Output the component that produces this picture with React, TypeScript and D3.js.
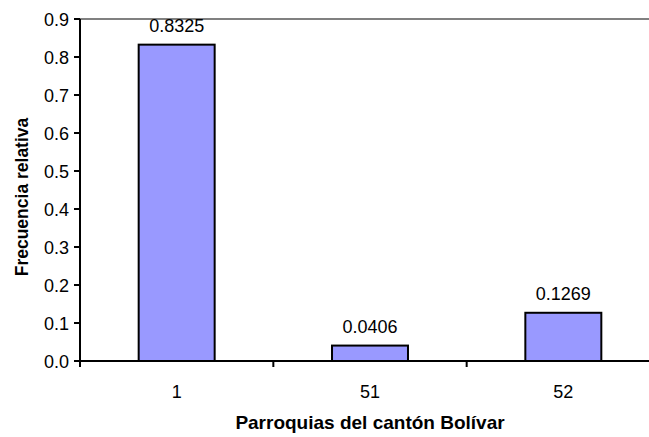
import React from "react";
import * as d3 from "d3";

const categories = ["1", "51", "52"];
const values = [0.8325, 0.0406, 0.1269];
const valueLabels = ["0.8325", "0.0406", "0.1269"];
const yTicks = [0, 0.1, 0.2, 0.3, 0.4, 0.5, 0.6, 0.7, 0.8, 0.9];
const xTitle = "Parroquias del cantón Bolívar";
const yTitle = "Frecuencia relativa";

export default function App() {
  const W = 649, H = 437;
  const left = 80, right = 660, top = 19, bottom = 361;
  const x = d3.scaleBand().domain(categories).range([left, right]).padding(0);
  const y = d3.scaleLinear().domain([0, 0.9]).range([bottom, top]);
  const step = x.step();
  const barW = step * 0.393;
  const font = "Liberation Sans, Arial, sans-serif";
  return (
    <svg width={W} height={H} style={{ position: "absolute", left: 0, top: 0, background: "#fff" }} fontFamily={font}>
      <line x1={left} x2={W} y1={top} y2={top} stroke="#808080" strokeWidth={2} />
      {categories.map((c, i) => {
        const cx = x(c)! + step / 2;
        return (
          <g key={c}>
            <rect x={cx - barW / 2} y={y(values[i])} width={barW} height={bottom - y(values[i])} fill="#9999FF" stroke="#000" strokeWidth={2} />
            <text x={cx} y={y(values[i]) - 13} textAnchor="middle" fontSize={18} fill="#000">{valueLabels[i]}</text>
            <text x={cx} y={398} textAnchor="middle" fontSize={18} fill="#000">{c}</text>
          </g>
        );
      })}
      <line x1={left} x2={left} y1={top} y2={bottom + 6} stroke="#000" strokeWidth={2} />
      <line x1={left} x2={W} y1={bottom} y2={bottom} stroke="#000" strokeWidth={2} />
      {d3.range(categories.length + 1).map((i) => (
        <line key={i} x1={left + step * i} x2={left + step * i} y1={bottom} y2={bottom + 6} stroke="#000" strokeWidth={2} />
      ))}
      {yTicks.map((t) => (
        <g key={t}>
          <line x1={left - 6} x2={left} y1={y(t)} y2={y(t)} stroke="#000" strokeWidth={2} />
          <text x={69} y={y(t) + 6.5} textAnchor="end" fontSize={18} fill="#000">{t.toFixed(1)}</text>
        </g>
      ))}
      <text x={(left + right) / 2} y={429} textAnchor="middle" fontSize={19} fontWeight="bold" fill="#000">{xTitle}</text>
      <text transform={`translate(28,197) rotate(-90)`} textAnchor="middle" fontSize={17.5} fontWeight="bold" fill="#000">{yTitle}</text>
    </svg>
  );
}
